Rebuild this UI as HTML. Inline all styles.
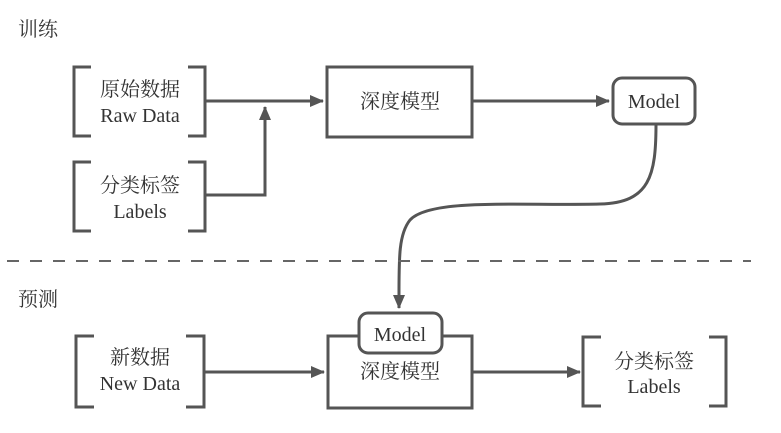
<!DOCTYPE html>
<html><head><meta charset="utf-8"><style>
body{margin:0;background:#fff;}
text{font-family:"Liberation Serif","Times New Roman","Noto Serif CJK SC",serif;fill:#333;}
</style></head><body>
<svg width="781" height="428" viewBox="0 0 781 428" xmlns="http://www.w3.org/2000/svg">
<defs>
<marker id="b" markerWidth="14" markerHeight="12" refX="13" refY="6" orient="auto" markerUnits="userSpaceOnUse"><path d="M0,0 L14,6 L0,12 z" fill="#555"/></marker></defs>
<g stroke="#555" stroke-width="3" fill="none">
<path d="M91,67 H74 V136 H91 M188,67 H205 V136 H188"/>
<path d="M91,162 H74 V231 H91 M188,162 H205 V231 H188"/>
<path d="M94,336 H76 V407 H94 M186,336 H204 V407 H186"/>
<path d="M601,337 H583 V406 H601 M709,337 H726 V406 H709"/>
<rect x="327" y="67" width="145" height="70"/>
<rect x="613" y="78" width="82" height="46" rx="9"/>
<rect x="328" y="336" width="144" height="72"/>
<path d="M205,101 H323" marker-end="url(#b)"/>
<path d="M205,195 H265 V107" marker-end="url(#b)"/>
<path d="M472,101 H609" marker-end="url(#b)"/>
<path d="M656,124 C656,175 650,203 600,204 C520,206 430,198 410,220 C398,235 399,260 399,308" marker-end="url(#b)"/>
<path d="M205,372 H324" marker-end="url(#b)"/>
<path d="M472,372 H580" marker-end="url(#b)"/>
</g>
<rect x="359" y="313" width="83" height="40" rx="9" fill="#fff" stroke="#555" stroke-width="3"/>
<line x1="7" y1="261" x2="751" y2="261" stroke="#666" stroke-width="2" stroke-dasharray="12,11"/>
<g font-size="20" font-family="Liberation Serif, Noto Serif CJK SC, serif">
<text x="18" y="36">训练</text>
<text x="18" y="306">预测</text>
<text x="140" y="96" text-anchor="middle">原始数据</text>
<text x="140" y="122" text-anchor="middle">Raw Data</text>
<text x="140" y="192" text-anchor="middle">分类标签</text>
<text x="140" y="218" text-anchor="middle">Labels</text>
<text x="400" y="108" text-anchor="middle">深度模型</text>
<text x="140" y="364" text-anchor="middle">新数据</text>
<text x="140" y="390" text-anchor="middle">New Data</text>
<text x="400" y="378" text-anchor="middle">深度模型</text>
<text x="654" y="368" text-anchor="middle">分类标签</text>
<text x="654" y="393" text-anchor="middle">Labels</text>
<text x="654" y="108" text-anchor="middle">Model</text>
<text x="400" y="341" text-anchor="middle">Model</text>
</g>
</svg>
</body></html>
